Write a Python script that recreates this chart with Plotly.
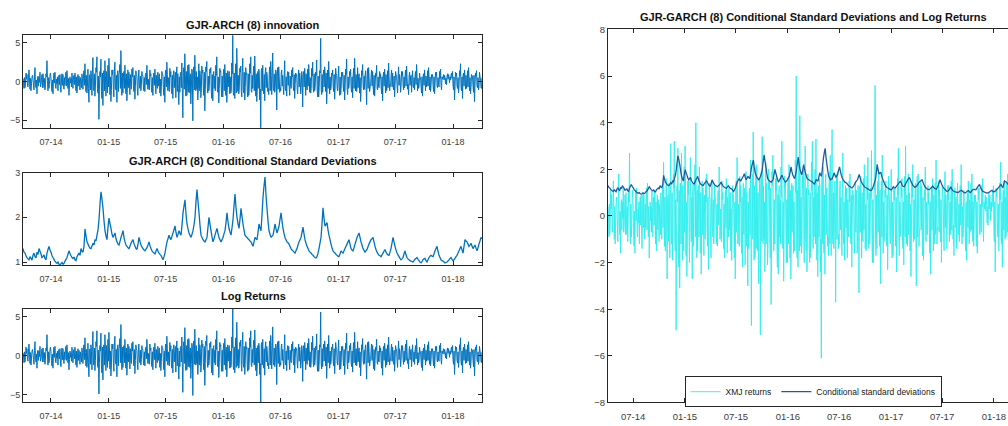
import pandas as pd
import plotly.graph_objects as go

# ---------------- data ----------------
start_date = "2014-04-03"
end_date = "2018-04-03"

log_returns = [
    0.4, 0.1, -0.9, 0.5, -0.8, -0.2, 1.1, 0.3, 0.9, -0.5,
    -0.7, 0.6, 1.5, 0.2, -1.0, 0.4, -1.2, -0.3, 0.6, 0.8,
    0.3, -0.5, -1.1, 0.7, 1.8, -0.4, -0.8, 0.2, -1.6, 0.5,
    0.7, -0.6, 0.6, -0.1, 1.2, -0.7, -0.4, 0.3, 0.9, -0.8,
    1.0, 0.2, -0.8, 0.4, -1.1, -0.3, 1.0, 0.6, 2.7, 0.1,
    -1.2, 0.5, -0.9, -0.4, 0.8, 1.1, 0.5, -0.6, -1.3, 0.2,
    -1.6, 0.4, 1.1, -0.2, 1.2, -0.7, -0.9, 0.3, -0.3, 0.6,
    -1.2, 0.5, 0.8, -0.4, 0.9, -0.8, -1.4, 0.2, 1.0, -0.5,
    0.9, -0.3, -1.0, 0.5, -0.5, 0.8, 1.2, -0.6, 1.4, 0.2,
    -0.9, 0.4, -1.8, -0.5, 0.6, -0.2, 0.4, -0.7, 1.1, 0.3,
    -0.9, 0.5, 0.8, -0.4, 1.1, 0.3, -1.2, 0.6, -1.5, -0.3,
    0.9, -0.6, 0.7, 0.2, -1.1, 0.5, -0.2, -0.8, 1.0, 0.4,
    -1.0, 0.6, 1.4, -0.5, 2.3, 0.4, -1.3, 0.8, -1.5, -0.6,
    1.6, -0.9, -2.7, 0.7, 0.9, -1.1, 1.4, 0.5, -1.8, 1.2,
    3.1, -0.8, -1.2, 1.0, -1.9, -0.6, 1.8, 1.2, 3.2, -0.9,
    -1.5, 0.7, -4.9, -1.0, 1.3, 0.6, 2.9, -1.3, -2.2, 1.1,
    -3.1, 0.9, 1.4, -1.2, 2.7, 0.8, -1.9, 1.3, -0.8, -1.5,
    2.1, -0.7, 3.0, 1.1, -1.7, 0.6, -2.6, -1.2, 1.5, 0.9,
    1.5, -1.0, -2.0, 1.3, 2.5, -0.6, -1.1, 0.8, -2.7, 1.0,
    1.4, -1.3, 0.9, 1.2, 2.2, -0.9, 4.0, 0.7, -1.8, 1.1,
    -1.5, 0.6, 1.3, -0.9, 2.1, 0.5, -1.6, 1.0, -2.5, -0.7,
    1.5, -0.8, 1.2, 0.4, -1.7, 0.9, -0.6, -1.0, 1.6, 0.6,
    1.8, -0.5, -1.3, 0.8, -2.3, -0.6, 1.4, 0.9, 0.7, -1.1,
    -1.8, 0.6, 1.5, -0.4, -0.9, 0.7, -1.2, -0.5, 1.3, 0.8,
    0.8, -0.6, -1.2, 0.5, -1.3, 0.9, 1.1, -0.4, 2.1, 0.6,
    -1.0, 0.3, -0.7, -1.1, 1.5, 0.7, 1.0, -0.8, -1.4, 0.5,
    -1.8, 0.7, 1.1, -0.5, 1.6, 0.4, -1.6, 0.8, -0.4, -0.9,
    1.2, -0.6, 0.6, 1.0, -1.5, 0.3, -1.9, -0.7, 1.3, 0.9,
    0.9, -0.8, -1.8, 0.6, -2.7, 1.1, 1.5, -0.7, 2.5, 0.9,
    -1.2, 0.5, -0.8, -1.3, 1.7, 0.6, 1.3, -1.0, -1.6, 0.8,
    -2.2, 0.9, 1.4, -0.8, 0.5, 1.2, -2.1, 0.7, 1.9, -1.3,
    1.0, -0.9, -3.0, 0.6, -1.4, 1.1, 1.2, -0.8, 2.4, -1.0,
    -4.7, 1.2, 1.8, -1.0, 3.6, 0.9, -1.9, 1.3, -1.8, -0.8,
    2.1, -1.4, 2.2, 0.7, -1.5, 1.0, -2.9, -1.1, 1.6, 1.2,
    -5.1, 1.5, 1.9, -1.1, 3.4, 0.8, -1.2, 1.3, -1.0, 0.6,
    -2.4, -0.9, 2.3, -1.2, 1.4, 0.9, -2.1, -1.4, 2.0, 1.1,
    1.5, -0.9, -1.8, 1.2, -3.8, -1.0, 1.9, 1.3, 2.6, -0.8,
    -1.5, 0.7, -1.2, -0.6, 1.6, 1.1, 1.8, -1.3, -2.2, 0.9,
    -2.5, 1.0, 1.3, -0.9, 0.7, -1.2, 2.1, 0.8, 3.2, -1.1,
    -1.4, 0.6, -2.8, -0.9, 1.7, 1.2, 1.4, -1.0, -2.0, 0.7,
    -2.0, 0.9, 1.6, -1.2, 2.2, 0.8, -1.8, 1.1, -2.7, -1.0,
    1.4, -0.7, 1.0, 1.3, -1.6, 0.6, -1.5, -1.2, 2.4, 1.0,
    6.0, -1.4, -1.8, 1.1, -2.2, 0.9, 2.3, -1.5, 4.3, 1.0,
    -1.3, 0.8, -1.6, -1.0, 1.7, 1.2, 2.0, -1.1, -2.0, 1.3,
    3.0, -1.0, -1.5, 1.2, -2.4, -0.8, 1.8, 0.9, 1.1, -1.3,
    -2.0, 1.0, -1.8, -0.7, 2.3, 1.1, 3.2, -1.2, -1.4, 0.8,
    -0.9, 1.1, 2.0, -1.2, 3.3, 0.8, -1.9, 1.0, -2.6, -1.1,
    1.3, -0.9, 1.6, 1.2, -2.4, -1.0, -6.1, 1.4, 1.7, -1.2,
    2.1, -1.0, -1.6, 0.9, -2.5, 1.2, 1.8, -0.8, 1.2, 0.7,
    -1.3, -0.9, -1.7, 1.1, 1.9, -1.2, 2.6, 0.8, -1.7, 1.0,
    3.7, -0.9, -1.2, 1.0, -1.4, -0.7, 1.5, 1.1, -3.7, 0.8,
    1.8, -1.0, 1.9, 0.6, -1.4, -0.8, -1.2, 1.1, 1.5, -0.6,
    0.8, -0.7, -1.7, 1.0, 2.7, -0.9, -1.2, 0.6, -1.9, 0.8,
    1.3, -0.5, 1.2, -0.8, -1.8, 0.7, -0.6, -0.9, 1.5, 0.6,
    1.8, -0.6, -1.2, 0.9, -2.2, -0.4, 1.1, 0.7, 0.9, -1.0,
    -1.6, 0.5, 1.5, -0.7, 1.1, 0.4, -1.6, -0.8, 1.3, 0.6,
    -3.3, 0.9, 1.3, -0.7, 1.7, 0.6, -1.8, 1.0, -0.8, -1.1,
    1.6, -0.6, 2.2, 0.8, -1.4, 0.5, -1.5, -0.9, 1.7, 0.7,
    2.5, -0.9, -1.4, 1.0, -1.2, -0.6, 1.2, 0.8, 2.8, -1.1,
    -2.0, 0.7, -2.0, -0.8, 1.4, 1.1, 5.6, -1.0, -1.7, 0.9,
    -1.4, 0.8, 1.5, -0.7, 1.9, 0.9, -1.3, 1.1, -2.9, -0.8,
    1.5, -0.9, 2.6, 0.7, -1.6, 0.6, -1.1, -0.7, 1.1, 0.8,
    1.5, -0.7, -1.3, 0.9, -2.3, -0.6, 1.7, 1.0, 0.8, -0.9,
    -1.2, 0.7, 2.0, -0.8, -1.8, 0.6, -1.7, -0.9, 1.2, 0.7,
    1.2, -0.6, -1.3, 0.8, -2.4, -0.7, 1.6, 0.9, 2.9, -1.0,
    -1.7, 0.6, -0.9, -0.5, 1.3, 0.8, 1.6, -0.9, -1.4, 0.6,
    -2.1, 0.8, 1.7, -0.9, 3.0, 0.6, -1.2, 0.9, -1.3, -0.7,
    1.8, -0.8, 0.7, 1.0, -1.5, 0.5, -2.6, -0.9, 1.4, 0.8,
    2.2, -0.6, -1.1, 0.7, -1.0, 0.9, 1.4, -0.8, -3.0, 0.6,
    1.7, -0.9, 1.8, 0.5, -1.3, -0.7, -0.5, 0.8, 1.5, -0.6,
    1.3, -0.5, -1.7, 0.8, -1.9, -0.6, 1.1, 0.7, 2.1, -0.9,
    -1.1, 0.6, -0.7, -0.8, 1.3, 0.5, 1.0, -0.7, -1.6, 0.6,
    -2.5, 0.7, 1.2, -0.6, 1.6, 0.5, -1.5, 0.9, -1.2, -0.6,
    1.4, -0.8, 2.4, 0.6, -1.2, -0.5, -0.6, 0.8, 1.5, -0.7,
    1.1, -0.6, -1.1, 0.7, -2.0, -0.4, 1.3, 0.8, 0.8, -0.7,
    -1.5, 0.6, 1.9, -0.5, 0.9, 0.4, -1.4, -0.6, 1.3, 0.7,
    1.3, -0.5, -1.1, 0.6, -0.8, 0.7, 1.5, -0.6, 2.0, 0.5,
    -1.0, -0.4, -1.7, 0.7, 1.2, -0.5, 0.6, 0.8, -1.4, 0.5,
    1.4, -0.6, -0.8, 0.5, -1.1, 0.7, 1.3, -0.4, 2.2, 0.6,
    -1.2, 0.4, -0.9, -0.6, 1.1, 0.5, 0.5, -0.7, -1.5, 0.6,
    -1.9, 0.6, 1.0, -0.5, 1.5, 0.4, -1.2, 0.7, -0.7, -0.4,
    1.4, -0.6, 1.8, 0.5, -1.1, 0.6, -1.3, -0.5, 0.9, 0.6,
    0.9, -0.5, -1.3, 0.6, -1.6, -0.4, 1.2, 0.7, 1.2, -0.6,
    -0.8, 0.5, -0.4, -0.7, 1.3, 0.4, 1.6, -0.5, -1.1, 0.6,
    0.3, 0.6, 0.9, 0.2, 0.8, 0.5, -0.3, 0.4, -0.4, 0.7,
    1.0, 0.3, 0.9, 0.5, -0.2, 0.6, 0.2, 0.8, 1.1, 0.4,
    1.3, -0.5, -1.1, 0.6, -2.4, -0.7, 1.2, 0.8, 1.1, -0.6,
    -0.9, 0.5, -1.5, -0.6, 1.4, 0.7, 2.3, -0.8, -1.2, 0.6,
    -2.2, 0.7, 1.1, -0.6, 1.5, 0.5, -1.0, 0.8, -0.9, -0.5,
    1.4, -0.7, 1.8, 0.6, -1.2, 0.5, -1.6, -0.8, 0.9, 0.7,
    0.7, -0.6, -1.4, 0.8, -2.6, -0.5, 1.1, 0.7, 1.4, -0.6,
    -0.8, 0.5, -1.1, -0.7, 1.2, 0.6, 0.4, -0.8, -0.9, 0.5,
]

cond_sd = [
    1.30, 1.22, 1.20, 1.14, 1.10, 1.07, 1.05, 1.12, 1.08, 1.04,
    1.15, 1.20, 1.12, 1.09, 1.22, 1.17, 1.30, 1.24, 1.18, 1.10,
    1.12, 1.16, 1.08, 1.05, 1.20, 1.28, 1.35, 1.27, 1.22, 1.14,
    1.10, 1.06, 1.02, 0.99, 0.97, 1.00, 0.95, 0.94, 0.96, 0.99,
    0.95, 0.97, 1.02, 1.06, 1.10, 1.18, 1.25, 1.19, 1.14, 1.10,
    1.08, 1.11, 1.05, 1.03, 1.12, 1.16, 1.20, 1.15, 1.30, 1.24,
    1.22, 1.35, 1.74, 1.58, 1.45, 1.40, 1.35, 1.31, 1.30, 1.36,
    1.42, 1.38, 1.50, 1.47, 1.60, 1.72, 1.95, 2.30, 2.57, 2.40,
    2.20, 1.92, 1.70, 1.58, 1.50, 1.78, 1.98, 1.85, 1.75, 1.62,
    1.55, 1.60, 1.65, 1.52, 1.45, 1.40, 1.38, 1.46, 1.55, 1.62,
    1.70, 1.55, 1.45, 1.38, 1.35, 1.32, 1.30, 1.36, 1.42, 1.46,
    1.50, 1.41, 1.35, 1.30, 1.28, 1.40, 1.55, 1.46, 1.38, 1.33,
    1.30, 1.27, 1.25, 1.29, 1.32, 1.38, 1.45, 1.36, 1.30, 1.25,
    1.22, 1.20, 1.18, 1.24, 1.30, 1.24, 1.20, 1.17, 1.15, 1.10,
    1.05, 1.12, 1.20, 1.33, 1.45, 1.52, 1.60, 1.54, 1.50, 1.58,
    1.65, 1.72, 1.81, 1.66, 1.55, 1.62, 1.70, 1.64, 1.60, 1.82,
    2.10, 2.25, 2.39, 2.08, 1.85, 1.74, 1.65, 1.60, 1.55, 1.62,
    1.70, 1.83, 2.00, 2.35, 2.62, 2.35, 2.10, 1.82, 1.60, 1.55,
    1.50, 1.47, 1.45, 1.50, 1.55, 1.78, 2.00, 1.84, 1.70, 1.56,
    1.45, 1.52, 1.60, 1.68, 1.75, 1.64, 1.55, 1.50, 1.45, 1.50,
    1.55, 1.63, 1.70, 1.88, 2.10, 1.90, 1.75, 1.67, 1.60, 1.76,
    1.95, 2.25, 2.52, 2.22, 2.00, 1.86, 1.75, 1.96, 2.20, 2.02,
    1.85, 1.72, 1.60, 1.57, 1.55, 1.52, 1.50, 1.47, 1.45, 1.40,
    1.35, 1.45, 1.55, 1.52, 1.50, 1.66, 1.85, 1.76, 1.70, 2.05,
    2.45, 2.70, 2.90, 2.50, 2.20, 1.92, 1.70, 1.62, 1.55, 1.58,
    1.60, 1.72, 1.85, 1.74, 1.65, 1.72, 1.80, 1.95, 2.10, 1.92,
    1.75, 1.64, 1.55, 1.50, 1.45, 1.43, 1.40, 1.35, 1.30, 1.27,
    1.25, 1.22, 1.20, 1.25, 1.30, 1.38, 1.45, 1.50, 1.55, 1.66,
    1.78, 1.63, 1.50, 1.42, 1.35, 1.30, 1.25, 1.22, 1.20, 1.17,
    1.15, 1.12, 1.10, 1.09, 1.12, 1.20, 1.30, 1.42, 1.55, 1.85,
    2.21, 1.98, 1.80, 1.84, 1.88, 1.72, 1.60, 1.50, 1.40, 1.32,
    1.25, 1.22, 1.20, 1.17, 1.15, 1.13, 1.12, 1.18, 1.25, 1.22,
    1.20, 1.25, 1.30, 1.35, 1.40, 1.45, 1.50, 1.40, 1.30, 1.27,
    1.25, 1.32, 1.40, 1.47, 1.55, 1.60, 1.65, 1.55, 1.45, 1.38,
    1.30, 1.26, 1.22, 1.25, 1.28, 1.34, 1.40, 1.45, 1.50, 1.52,
    1.55, 1.45, 1.35, 1.28, 1.22, 1.18, 1.15, 1.14, 1.12, 1.16,
    1.20, 1.24, 1.28, 1.22, 1.18, 1.16, 1.15, 1.22, 1.30, 1.42,
    1.55, 1.45, 1.35, 1.27, 1.20, 1.16, 1.12, 1.08, 1.05, 1.07,
    1.10, 1.18, 1.25, 1.16, 1.10, 1.07, 1.05, 1.03, 1.02, 1.01,
    1.00, 1.03, 1.06, 1.08, 1.10, 1.06, 1.03, 1.00, 0.98, 1.01,
    1.05, 1.07, 1.08, 1.03, 1.00, 1.05, 1.10, 1.13, 1.15, 1.13,
    1.12, 1.18, 1.25, 1.30, 1.35, 1.24, 1.15, 1.10, 1.05, 1.03,
    1.02, 1.00, 0.98, 0.99, 1.00, 1.02, 1.05, 1.08, 1.10, 1.06,
    1.03, 1.05, 1.08, 1.12, 1.15, 1.20, 1.25, 1.30, 1.35, 1.27,
    1.20, 1.35, 1.50, 1.47, 1.45, 1.40, 1.35, 1.38, 1.42, 1.36,
    1.30, 1.34, 1.38, 1.31, 1.25, 1.32, 1.40, 1.47, 1.55, 1.52,
]

tick_dates = ["2014-07-01", "2015-01-01", "2015-07-01", "2016-01-01",
              "2016-07-01", "2017-01-01", "2017-07-01", "2018-01-01"]
tick_labels = ["07-14", "01-15", "07-15", "01-16", "07-16", "01-17", "07-17", "01-18"]

titles = ["GJR-ARCH (8) innovation",
          "GJR-ARCH (8) Conditional Standard Deviations",
          "Log Returns",
          "GJR-GARCH (8) Conditional Standard Deviations and Log Returns"]
legend_names = ["XMJ returns", "Conditional standard deviations"]

dates_r = pd.date_range(start_date, end_date, periods=len(log_returns))
dates_s = pd.date_range(start_date, end_date, periods=len(cond_sd))

# ---------------- figure ----------------
W, H = 1008, 426
BLUE = "#0072BD"
CYAN = "#30EDED"
DARK = "#1F5C9E"
AX = "#262626"
TICKC = "#404040"
FONT = "Liberation Sans, Arial, sans-serif"


def px_x(p):
    return p / W


def px_y(p):
    return 1 - p / H


fig = go.Figure()

fig.add_trace(go.Scatter(x=dates_r, y=log_returns, mode="lines",
                         line=dict(color=BLUE, width=1, simplify=False),
                         xaxis="x", yaxis="y", showlegend=False))
fig.add_trace(go.Scatter(x=dates_s, y=cond_sd, mode="lines",
                         line=dict(color=BLUE, width=1.3, simplify=False),
                         xaxis="x2", yaxis="y2", showlegend=False))
fig.add_trace(go.Scatter(x=dates_r, y=log_returns, mode="lines",
                         line=dict(color=BLUE, width=1, simplify=False),
                         xaxis="x3", yaxis="y3", showlegend=False))
fig.add_trace(go.Scatter(x=dates_r, y=log_returns, mode="lines", name=legend_names[0],
                         line=dict(color=CYAN, width=0.9, simplify=False),
                         xaxis="x4", yaxis="y4"))
fig.add_trace(go.Scatter(x=dates_s, y=cond_sd, mode="lines", name=legend_names[1],
                         line=dict(color=DARK, width=1.3, simplify=False),
                         xaxis="x4", yaxis="y4"))

common_x = dict(type="date", tickvals=tick_dates, ticktext=tick_labels,
                ticks="inside", ticklen=4, tickcolor=AX, showline=True,
                linecolor=AX, linewidth=1, mirror="ticks", showgrid=False,
                zeroline=False, ticklabelstandoff=5,
                tickfont=dict(family=FONT, size=9, color=TICKC))
common_y = dict(ticks="inside", ticklen=4, tickcolor=AX, showline=True,
                linecolor=AX, linewidth=1, mirror="ticks", showgrid=False,
                zeroline=False, tickfont=dict(family=FONT, size=9, color=TICKC))

left_dom = [px_x(23), px_x(482)]
panels = [(30, 125), (171, 266), (311, 407)]

layout = dict(
    width=W, height=H, margin=dict(l=0, r=0, t=0, b=0),
    paper_bgcolor="white", plot_bgcolor="white",
    font=dict(family=FONT, color=TICKC),
)

yranges = [[-6, 6], [0.93, 3.0], [-6, 6]]
yticks = [[-5, 0, 5], [1, 2, 3], [-5, 0, 5]]
for k, (top, bot) in enumerate(panels, start=1):
    sx = "" if k == 1 else str(k)
    layout["xaxis" + sx] = dict(common_x, domain=left_dom, anchor="y" + sx,
                                range=[start_date, end_date])
    layout["yaxis" + sx] = dict(common_y, domain=[px_y(bot), px_y(top)],
                                anchor="x" + sx, range=yranges[k - 1],
                                tickvals=yticks[k - 1])

# right panel: its right part is cut off by the window edge
layout["xaxis4"] = dict(common_x, domain=[px_x(608), 1.0], anchor="y4",
                        range=[start_date, "2018-02-20"], mirror="allticks",
                        tickfont=dict(family=FONT, size=9.5, color=TICKC))
layout["yaxis4"] = dict(common_y, domain=[px_y(407), px_y(24)], anchor="x4",
                        range=[-8, 8], tickvals=[-8, -6, -4, -2, 0, 2, 4, 6, 8],
                        mirror=False,
                        tickfont=dict(family=FONT, size=9.5, color=TICKC))

layout["legend"] = dict(orientation="h", x=px_x(813), xanchor="center",
                        y=px_y(380), yanchor="top", bgcolor="white",
                        bordercolor=AX, borderwidth=1,
                        font=dict(family=FONT, size=8.5, color="#202020"),
                        itemwidth=30, tracegroupgap=0)

title_pos = [(253, 19), (253, 159), (253, 298), (813, 11)]
annotations = []
for t, (cx, cy) in zip(titles, title_pos):
    annotations.append(dict(text="<b>" + t + "</b>", x=px_x(cx), y=px_y(cy),
                            xref="paper", yref="paper", showarrow=False,
                            xanchor="center", yanchor="middle",
                            font=dict(family=FONT, size=11, color="#111111")))
layout["annotations"] = annotations

fig.update_layout(**layout)
fig.write_html("out.html")
